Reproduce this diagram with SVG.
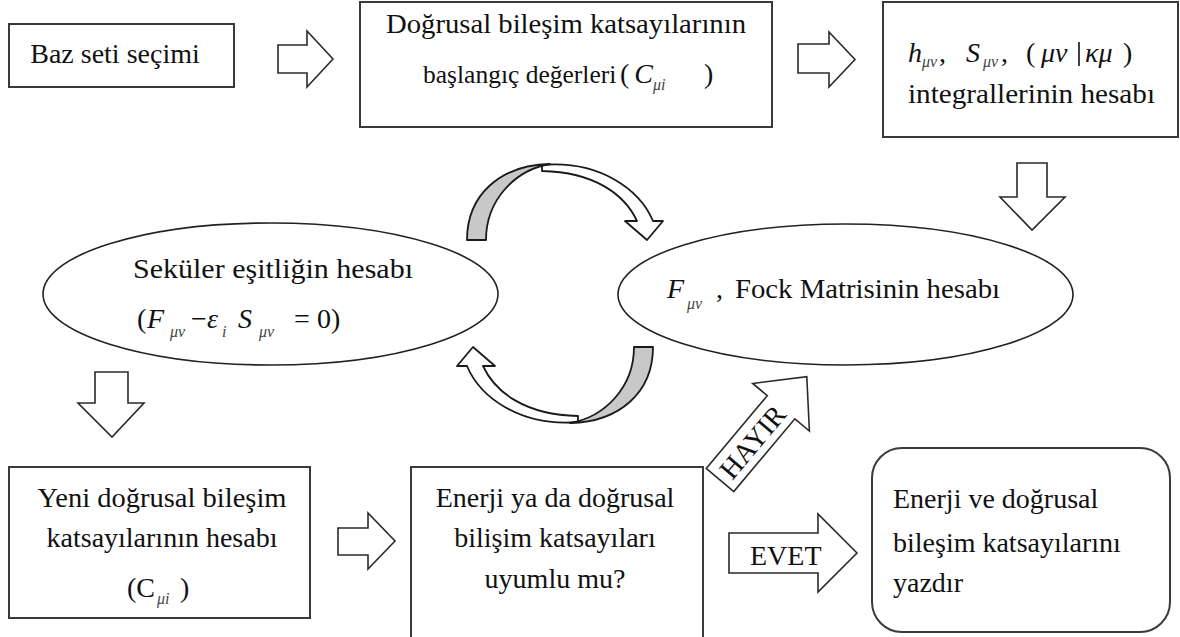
<svg xmlns="http://www.w3.org/2000/svg" width="1180" height="637" viewBox="0 0 1180 637">
<style>
.box{fill:#fff;stroke:#3a3a3a;stroke-width:2}
.ell{fill:#fff;stroke:#222;stroke-width:1.6}
.blk{fill:#fff;stroke:#2a2a2a;stroke-width:1.6;stroke-linejoin:miter}
.cur{stroke:#1a1a1a;stroke-width:1.8;stroke-linejoin:round}
text{font-family:'Liberation Serif','DejaVu Serif',serif;font-size:28px;fill:#111}
.it{font-style:italic}
.sub{font-size:16px;font-style:italic;fill:#444}
.m{text-anchor:middle}
</style>
<rect width="1180" height="637" fill="#fff"/>
<g id="connectors">
  <path class="blk" d="M278,45 L307,45 L307,31 L333,59 L307,87 L307,73 L278,73 Z"/>
  <path class="blk" d="M798,44 L829,44 L829,32 L855,59.5 L829,87 L829,73 L798,73 Z"/>
  <path class="blk" d="M1017,163 L1047,163 L1047,197 L1065,197 L1032,230 L1000,197 L1017,197 Z"/>
  <path class="blk" d="M95,372 L128,372 L128,403 L144,403 L112,437 L78,403 L95,403 Z"/>
  <path class="blk" d="M338,528 L368,528 L368,513 L395,541 L368,569 L368,555 L338,555 Z"/>
  <g id="loop-top">
    <path class="cur" fill="#fff" d="M542,165 C600,160 640,190 653,221 L663,221 L647,240 L625,221 L637,221 C625,195 595,172 542,171 Z"/>
    <path class="cur" fill="#c8c8c8" d="M467,240 C467,195 500,165 550,164 C515,170 486,200 486,240 Z"/>
  </g>
  <g id="loop-bottom" transform="rotate(180 560 293.5)">
    <path class="cur" fill="#fff" d="M542,165 C600,160 640,190 653,221 L663,221 L647,240 L625,221 L637,221 C625,195 595,172 542,171 Z"/>
    <path class="cur" fill="#c8c8c8" d="M467,240 C467,195 500,165 550,164 C515,170 486,200 486,240 Z"/>
  </g>
  <g id="hayir" transform="translate(720,480) rotate(-50)">
    <path class="blk" d="M0,-18 L95,-18 L95,-37 L135,0 L95,37 L95,18 L0,18 Z"/>
    <text class="m" x="50" y="10" font-size="27">HAYIR</text>
  </g>
  <g id="evet">
    <path class="blk" d="M729,533 L818,533 L818,514 L857,553 L818,592 L818,573 L729,573 Z"/>
    <text x="750" y="565">EVET</text>
  </g>
</g>
<g id="baz">
  <rect class="box" x="9" y="24" width="225" height="63"/>
  <text class="m" x="115" y="63">Baz seti seçimi</text>
</g>
<g id="baslangic">
  <rect class="box" x="360" y="2" width="412" height="125"/>
  <text class="m" x="566" y="33" textLength="360" lengthAdjust="spacingAndGlyphs">Doğrusal bileşim katsayılarının</text>
  <text x="423" y="83"><tspan font-size="25.5">başlangıç değerleri</tspan><tspan x="620">(</tspan><tspan class="it" dx="5">C</tspan><tspan class="sub" dy="7">μi</tspan><tspan x="704" dy="-7">)</tspan></text>
</g>
<g id="integraller">
  <rect class="box" x="883" y="2" width="295" height="135"/>
  <text class="it" x="908" y="62">h</text>
  <text class="sub" x="922" y="67">μν</text>
  <text x="939" y="62">,</text>
  <text class="it" x="966" y="62">S</text>
  <text class="sub" x="983" y="67">μν</text>
  <text x="1001" y="62">,</text>
  <text x="1026" y="62">(</text>
  <text class="it" x="1041" y="62" font-size="33">μν</text>
  <line x1="1079" y1="42" x2="1079" y2="66" stroke="#111" stroke-width="1.6"/>
  <text class="it" x="1085" y="62" font-size="33">κμ</text>
  <text x="1123" y="62">)</text>
  <text x="908" y="103" textLength="247" lengthAdjust="spacingAndGlyphs">integrallerinin hesabı</text>
</g>
<g id="sekuler">
  <ellipse class="ell" cx="270.5" cy="294" rx="227.5" ry="71"/>
  <text x="133" y="278" textLength="280" lengthAdjust="spacingAndGlyphs">Seküler eşitliğin hesabı</text>
  <text x="137" y="328" font-size="30">(</text>
  <text class="it" x="147" y="328" font-size="30">F</text>
  <text class="sub" x="170" y="337" font-size="18">μν</text>
  <text x="191" y="328" font-size="30">−</text>
  <text class="it" x="207" y="328" font-size="30">ε</text>
  <text class="sub" x="222" y="337" font-size="18">i</text>
  <text class="it" x="238" y="328" font-size="30">S</text>
  <text class="sub" x="259" y="337" font-size="18">μν</text>
  <text x="294" y="328" font-size="30">=</text>
  <text x="317" y="328" font-size="30">0)</text>
</g>
<g id="fock">
  <ellipse class="ell" cx="845.5" cy="294.5" rx="227.5" ry="70.5"/>
  <text class="it" x="667" y="298">F</text>
  <text class="sub" x="687" y="309" font-size="19">μν</text>
  <text x="716" y="298">,</text>
  <text x="735" y="298" textLength="265" lengthAdjust="spacingAndGlyphs">Fock Matrisinin hesabı</text>
</g>
<g id="yeni">
  <rect class="box" x="9" y="467" width="301" height="151"/>
  <text class="m" x="162" y="507" textLength="249" lengthAdjust="spacingAndGlyphs">Yeni doğrusal bileşim</text>
  <text class="m" x="162" y="547">katsayılarının hesabı</text>
  <text x="127" y="597">(C</text>
  <text class="sub" x="157" y="604" font-size="18">μi</text>
  <text x="180" y="597">)</text>
</g>
<g id="uyumlu">
  <path class="box" d="M411,640 L411,467 L703,467 L703,640"/>
  <text class="m" x="555" y="507">Enerji ya da doğrusal</text>
  <text class="m" x="555" y="547">bilişim katsayıları</text>
  <text class="m" x="555" y="588">uyumlu mu?</text>
</g>
<g id="yazdir">
  <rect class="box" x="872" y="448" width="298" height="184" rx="30" ry="30"/>
  <text x="893" y="508">Enerji ve doğrusal</text>
  <text x="893" y="552">bileşim katsayılarını</text>
  <text x="893" y="592">yazdır</text>
</g>
</svg>
